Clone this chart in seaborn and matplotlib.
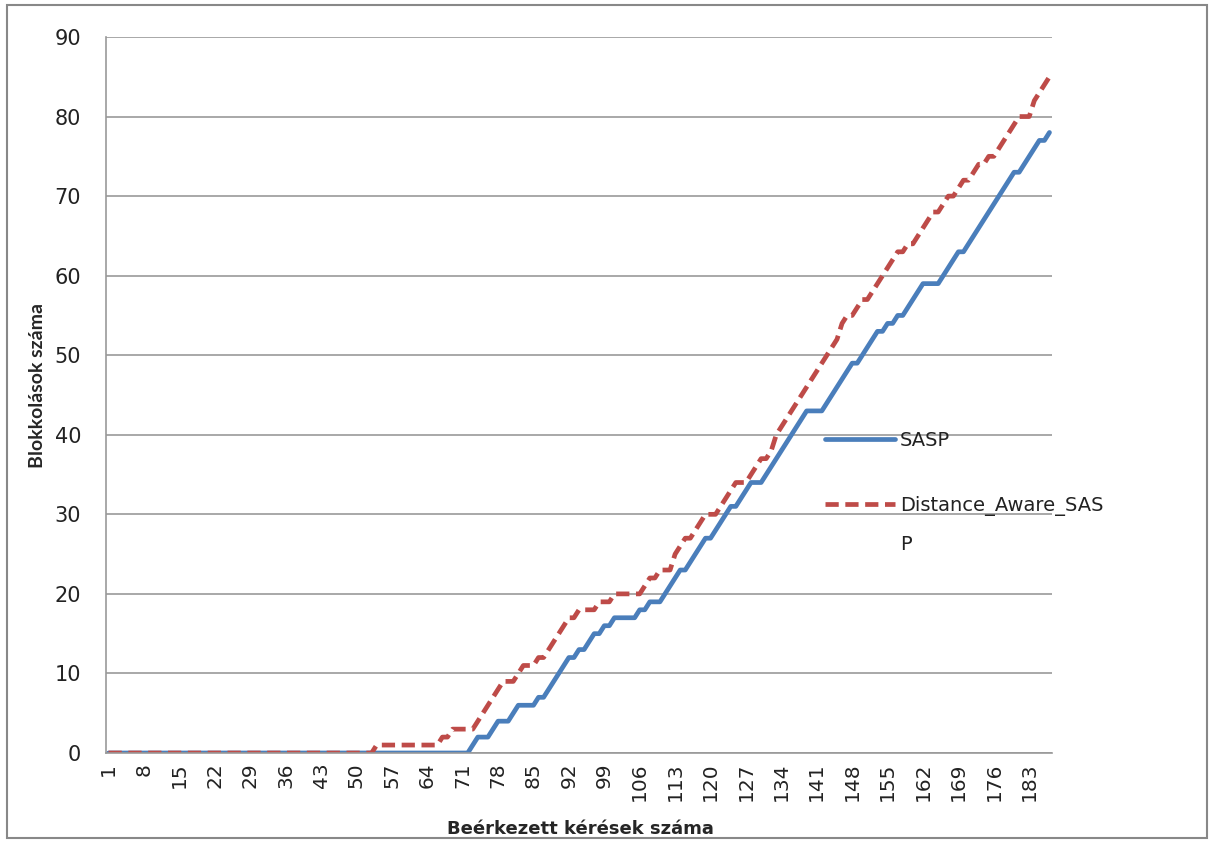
import matplotlib
matplotlib.use("Agg")
import matplotlib.pyplot as plt
import matplotlib.patches as mpatches
from matplotlib.lines import Line2D
import numpy as np
import pandas as pd
import seaborn as sns

# ---- data ----
sasp = ([0] * 72 +
        [1, 2, 2, 2, 3, 4, 4, 4, 5, 6, 6, 6, 6, 7, 7, 8, 9, 10, 11, 12, 12, 13, 13,
         14, 15, 15, 16, 16, 17, 17, 17, 17, 17, 18, 18, 19, 19, 19, 20, 21, 22, 23,
         23, 24, 25, 26, 27, 27, 28, 29, 30, 31, 31, 32, 33, 34, 34, 34, 35, 36, 37,
         38, 39, 40, 41, 42, 43, 43, 43, 43, 44, 45, 46, 47, 48, 49, 49, 50, 51,
         52, 53, 53, 54, 54, 55, 55, 56, 57, 58, 59, 59, 59, 59, 60, 61, 62, 63, 63,
         64, 65, 66, 67, 68, 69, 70, 71, 72, 73, 73, 74, 75, 76, 77, 77, 78])
distance_aware = ([0] * 53 + [1] * 13 + [2, 2] + [3] * 5 +
                  [4, 5, 6, 7, 8, 9, 9, 9, 10, 11, 11, 11, 12, 12, 13, 14, 15, 16, 17,
                   17, 18, 18, 18, 18, 19, 19, 19, 20, 20, 20, 20, 20, 20, 21, 22, 22,
                   23, 23, 23, 25, 26, 27, 27, 28, 29, 30, 30, 30, 31, 32, 33, 34, 34,
                   34, 35, 36, 37, 37, 38, 40, 41, 42, 43, 44, 45, 46, 47, 48, 49, 50,
                   51, 52, 54, 55, 55, 56, 57, 57, 58, 59, 60, 61, 62, 63, 63, 64, 64,
                   65, 66, 67, 68, 68, 69, 70, 70, 71, 72, 72, 73, 74, 74, 75, 75, 76,
                   77, 78, 79, 80, 80, 80, 82, 83, 84, 85])
series_names = ["SASP", "Distance_Aware_SASP"]
legend_lines = ["SASP", "Distance_Aware_SAS"]
legend_wrap = "P"
y_ticks = [0, 10, 20, 30, 40, 50, 60, 70, 80, 90]
x_label = "Beérkezett kérések száma"
y_label = "Blokkolások száma"

n = min(len(sasp), len(distance_aware))
requests = np.arange(1, n + 1)
x_tick_vals = list(range(1, n + 1, 7))

df = pd.DataFrame({
    "request": np.concatenate([requests, requests]),
    "value": np.concatenate([sasp[:n], distance_aware[:n]]),
    "series": [series_names[0]] * n + [series_names[1]] * n,
})

sns.set_theme(style="white")
plt.rcParams["font.family"] = ["DejaVu Sans"]

W, H = 1212, 841
fig = plt.figure(figsize=(W / 100, H / 100), dpi=100)
ax = fig.add_axes([106 / W, 1 - 753 / H, (1052 - 106) / W, (753 - 37) / H])

blue = "#4A7EBB"
red = "#BE4B48"
LW = 3.4
DASH = (2.8, 1.4)
sns.lineplot(data=df, x="request", y="value", hue="series", style="series",
             palette={series_names[0]: blue, series_names[1]: red},
             dashes={series_names[0]: "", series_names[1]: DASH},
             linewidth=LW, ax=ax, legend=False)

ax.set_xlim(0.5, n + 0.5)
ax.set_ylim(0, 90)
ax.set_yticks(y_ticks)
ax.set_yticklabels([str(v) for v in y_ticks], fontsize=15, color="#222222")
ax.set_xticks(x_tick_vals)
ax.set_xticklabels([str(v) for v in x_tick_vals], rotation=90, fontsize=14.5, color="#222222")
ax.set_xticks(np.arange(0.5, n + 1.0, 1.0), minor=True)
ax.tick_params(axis="x", which="major", length=0, pad=7)
ax.tick_params(axis="x", which="minor", length=6, width=1, color="#999999", direction="out")
ax.tick_params(axis="y", which="major", length=6, width=1, color="#999999", direction="out", pad=12)
ax.yaxis.grid(True, color="#999999", linewidth=1.2)
ax.xaxis.grid(False)
for s in ["top", "right"]:
    ax.spines[s].set_visible(False)
for s in ["left", "bottom"]:
    ax.spines[s].set_color("#999999")
    ax.spines[s].set_linewidth(1.2)

ax.set_xlabel(x_label, fontsize=13, fontweight="bold")
ax.set_ylabel(y_label, fontsize=14, fontweight="bold", family=["Lato", "DejaVu Sans"])
ax.xaxis.set_label_coords((580 - 106) / (1052 - 106), -(820 - 753) / (753 - 37))
ax.yaxis.set_label_coords(-(106 - 46) / (1052 - 106), (753 - 385) / (753 - 37))

handles = [Line2D([0], [0], color=blue, linewidth=LW),
           Line2D([0], [0], color=red, linewidth=LW, linestyle=(0, DASH))]
leg = fig.legend(handles, legend_lines, loc="upper left",
                 bbox_to_anchor=(825 / W, 1 - 431 / H), frameon=False,
                 fontsize=14, handlelength=3.6, handletextpad=0.25,
                 borderpad=0, borderaxespad=0, labelspacing=2.35)
for t in leg.get_texts():
    t.set_color("#222222")
fig.text(900 / W, 1 - 545 / H, legend_wrap, fontsize=14, color="#222222",
         ha="left", va="center")

fig.patches.append(mpatches.Rectangle((7 / W, 1 - 838 / H), (1207 - 7) / W, (838 - 5) / H,
                                      transform=fig.transFigure, fill=False,
                                      edgecolor="#888888", linewidth=1.5))

fig.savefig("out.png", dpi=100)
